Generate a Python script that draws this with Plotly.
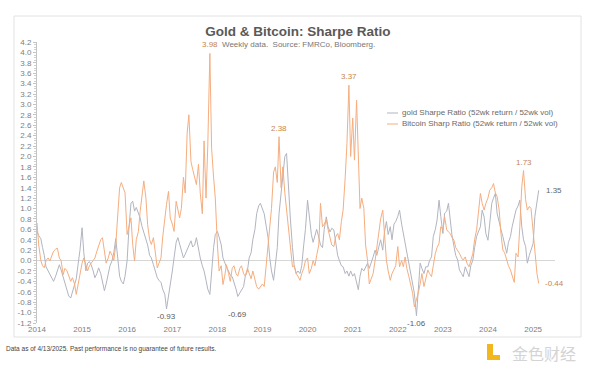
import plotly.graph_objects as go
import pandas as pd

# ---- data: semi-monthly readings of the weekly series (24 per year) ----
gold_2014 = [0.40, 0.56, 0.48, 0.42, 0.25, 0.10, -0.12, -0.20, -0.27, -0.35, -0.40, -0.30, -0.18, -0.08, -0.18, -0.33, -0.45, -0.55, -0.68, -0.72, -0.60, -0.50, -0.35, -0.05]
gold_2015 = [0.20, 0.63, 0.15, -0.20, -0.05, -0.02, -0.08, -0.20, -0.33, -0.25, -0.14, -0.25, -0.40, -0.58, -0.45, -0.22, -0.10, 0.00, 0.15, 0.42, 0.10, -0.30, -0.40, -0.45]
gold_2016 = [-0.30, 0.00, 0.60, 1.10, 1.14, 0.95, 1.02, 0.90, 0.82, 0.65, 0.55, 0.40, 0.30, 0.10, 0.05, -0.08, -0.20, -0.33, -0.38, -0.42, -0.55, -0.65, -0.93, -0.70]
gold_2017 = [-0.46, -0.20, 0.05, 0.35, 0.44, 0.32, 0.20, 0.05, 0.12, 0.20, 0.30, 0.38, 0.26, 0.30, 0.44, 0.20, 0.05, -0.10, -0.20, -0.38, -0.55, -0.65, -0.20, 0.25]
gold_2018 = [0.50, 0.56, 0.45, 0.30, 0.05, -0.05, -0.12, -0.20, -0.28, -0.31, -0.40, -0.55, -0.69, -0.62, -0.58, -0.50, -0.30, -0.20, 0.05, 0.15, 0.40, 0.60, 0.90, 1.05]
gold_2019 = [1.10, 1.00, 0.90, 0.65, 0.45, 0.05, -0.20, -0.38, -0.10, 0.25, 0.90, 1.30, 1.70, 2.00, 2.06, 1.30, 0.80, 0.25, -0.10, -0.25, -0.20, -0.25, -0.10, 0.30]
gold_2020 = [0.60, 1.16, 0.80, 0.50, 0.35, 0.50, 0.60, 0.45, 0.30, 0.25, 0.60, 0.84, 0.65, 0.55, 0.62, 0.59, 0.40, 0.10, 0.00, -0.10, -0.12, -0.25, -0.20, -0.30]
gold_2021 = [-0.20, -0.30, -0.25, -0.45, -0.56, -0.30, -0.15, -0.20, -0.12, -0.05, -0.15, 0.00, 0.07, 0.20, 0.10, 0.27, 0.40, 0.20, 0.55, 0.75, 0.50, 0.65, 0.40, 0.70]
gold_2022 = [0.75, 0.85, 0.97, 0.70, 0.52, 0.30, 0.14, -0.10, -0.31, -0.50, -0.63, -1.06, -0.50, -0.05, -0.15, -0.25, -0.12, -0.12, 0.00, 0.07, 0.46, 0.60, 0.78, 1.16]
gold_2023 = [0.85, 0.52, 0.91, 0.95, 1.10, 0.78, 0.50, 0.27, 0.10, 0.01, -0.18, -0.25, -0.31, -0.12, -0.20, -0.31, -0.10, 0.01, 0.25, 0.46, 0.55, 0.65, 0.97, 0.84]
gold_2024 = [0.52, 0.39, 0.70, 1.10, 1.20, 1.29, 0.91, 0.71, 0.60, 0.46, 0.30, 0.14, 0.35, 0.46, 0.65, 0.80, 0.97, 1.05, 1.16, 0.65, 0.40, 0.27, -0.05, 0.10]
gold_2025 = [0.20, 0.33, 0.85, 1.15, 1.35]

btc_2014 = [0.65, 0.72, 0.30, 0.00, -0.10, -0.14, 0.00, 0.05, -0.01, 0.10, 0.18, 0.22, 0.24, 0.05, 0.00, -0.27, -0.15, -0.20, -0.30, -0.40, -0.33, -0.45, -0.65, -0.45]
btc_2015 = [-0.20, -0.05, 0.05, -0.10, -0.20, -0.10, -0.05, -0.01, 0.05, 0.18, 0.30, 0.40, 0.44, 0.18, -0.05, 0.05, 0.18, 0.10, 0.00, 0.31, 0.82, 1.40, 1.50, 1.40]
btc_2016 = [1.30, 0.50, 0.65, 0.82, 0.31, -0.01, 0.40, 0.56, 0.94, 1.30, 1.53, 1.20, 0.69, 0.40, 0.31, 0.44, 0.18, -0.14, -0.05, 0.05, 0.45, 0.82, 1.08, 1.33]
btc_2017 = [0.82, 0.70, 0.56, 1.14, 0.95, 0.82, 1.00, 1.60, 1.30, 2.45, 2.80, 1.90, 1.75, 1.60, 1.46, 1.85, 1.30, 0.90, 2.30, 1.20, 2.20, 3.98, 2.16, 1.60]
btc_2018 = [1.20, 0.30, -0.20, -0.10, -0.46, -0.30, -0.08, -0.25, -0.40, -0.15, -0.10, -0.25, -0.30, -0.15, -0.10, -0.25, -0.30, -0.15, -0.25, -0.35, -0.20, -0.40, -0.50, -0.55]
btc_2019 = [-0.50, -0.45, -0.50, -0.10, 0.30, 0.65, 1.00, 1.70, 1.80, 1.50, 2.38, 1.40, 1.80, 1.30, 1.00, 0.60, 0.27, -0.12, -0.10, -0.25, -0.30, -0.38, -0.25, -0.15]
btc_2020 = [0.00, 0.05, -0.25, -0.15, 0.00, -0.10, 0.10, 0.30, 1.10, 0.65, 0.70, 0.78, 0.60, 0.40, 0.30, 0.27, 0.45, 0.52, 0.40, 0.75, 0.97, 1.60, 2.25, 3.37]
btc_2021 = [2.00, 2.74, 1.93, 3.08, 1.75, 1.00, 1.20, 1.00, 0.30, 0.00, -0.45, -0.35, -0.25, 0.00, 0.27, 0.50, 0.80, 0.97, 0.50, 0.00, -0.20, -0.38, -0.25, -0.18]
btc_2022 = [-0.10, 0.27, -0.12, 0.00, -0.12, 0.07, -0.15, -0.31, -0.45, -0.63, -0.89, -0.75, -0.63, -0.45, -0.25, -0.50, -0.35, -0.18, -0.25, -0.31, -0.10, 0.14, 0.25, 0.33]
btc_2023 = [0.65, 0.60, 0.84, 0.59, 0.55, 0.52, 0.45, 0.39, 0.25, 0.20, 0.14, 0.05, 0.01, 0.07, -0.05, -0.12, 0.00, 0.14, 0.40, 0.59, 0.90, 1.29, 1.10, 0.97]
btc_2024 = [1.10, 1.20, 1.35, 1.40, 1.48, 1.30, 1.23, 0.97, 0.52, 0.20, 0.15, 0.01, -0.10, -0.18, -0.30, -0.42, 0.14, 0.07, 0.65, 1.42, 1.73, 1.17, 0.97, 1.04]
btc_2025 = [1.00, 0.52, 0.07, -0.25, -0.44]

gold_values = (gold_2014 + gold_2015 + gold_2016 + gold_2017 + gold_2018 + gold_2019
               + gold_2020 + gold_2021 + gold_2022 + gold_2023 + gold_2024 + gold_2025)
btc_values = (btc_2014 + btc_2015 + btc_2016 + btc_2017 + btc_2018 + btc_2019
              + btc_2020 + btc_2021 + btc_2022 + btc_2023 + btc_2024 + btc_2025)
dates = pd.date_range("2013-12-15", periods=len(gold_values), freq="SMS")

year_labels = [str(y) for y in range(2014, 2026)]
y_ticks = [round(-1.2 + 0.2 * k, 1) for k in range(28)]

gold_name = "gold Sharpe Ratio (52wk return / 52wk vol)"
btc_name = "Bitcoin Sharp Ratio (52wk return / 52wk vol)"
btc_peaks = [3.98, 2.38, 3.37, 1.73]
gold_troughs = [-0.93, -0.69, -1.06]

GOLD_C = "#b2b5c0"
BTC_C = "#f5ae80"
BTC_TXT = "#c7864d"
GOLD_TXT = "#5a5a5a"

# ---- pixel helpers (layout positions only) ----
L, R, T, B = 37, 555, 42, 323
def px(x):
    return (x - L) / (R - L)
def py(y):
    return (B - y) / (B - T)

fig = go.Figure()
fig.add_trace(go.Scatter(x=dates, y=gold_values, mode="lines", name=gold_name,
                         line=dict(color=GOLD_C, width=1)))
fig.add_trace(go.Scatter(x=dates, y=btc_values, mode="lines", name=btc_name,
                         line=dict(color=BTC_C, width=1)))

ann = []
for v in btc_peaks:
    i = btc_values.index(v)
    ann.append(dict(x=dates[i], y=v, xref="x", yref="y", text=f"{v:.2f}", showarrow=False,
                    yanchor="bottom", yshift=2, font=dict(size=8, color=BTC_TXT)))
for v in gold_troughs:
    i = gold_values.index(v)
    ys = -12 if v == -0.69 else -1
    ann.append(dict(x=dates[i], y=v, xref="x", yref="y", text=f"{v:.2f}", showarrow=False,
                    yanchor="top", yshift=ys, font=dict(size=8, color=GOLD_TXT)))
ann.append(dict(x=dates[-1], y=gold_values[-1], xref="x", yref="y", text=f"{gold_values[-1]:.2f}",
                showarrow=False, xanchor="left", xshift=5, font=dict(size=8, color="#666666")))
ann.append(dict(x=dates[-1], y=btc_values[-1], xref="x", yref="y", text=f"{btc_values[-1]:.2f}",
                showarrow=False, xanchor="left", xshift=4, font=dict(size=8, color=BTC_TXT)))

# subtitle
ann.append(dict(x=px(298), y=py(45), xref="paper", yref="paper", showarrow=False,
                text="Weekly data.  Source: FMRCo, Bloomberg.", yanchor="middle",
                font=dict(size=8, color="#777777")))
# legend text
ann.append(dict(x=px(400), y=py(113), xref="paper", yref="paper", showarrow=False, text=gold_name,
                xanchor="left", yanchor="middle", font=dict(size=8, color="#6a6a6a")))
ann.append(dict(x=px(400), y=py(124), xref="paper", yref="paper", showarrow=False, text=btc_name,
                xanchor="left", yanchor="middle", font=dict(size=8, color="#6a6a6a")))
# footer
ann.append(dict(x=px(4), y=py(349), xref="paper", yref="paper", showarrow=False,
                text="Data as of 4/13/2025. Past performance is no guarantee of future results.",
                xanchor="left", yanchor="middle", font=dict(size=6.5, color="#444444")))
# watermark
ann.append(dict(x=px(544), y=py(353), xref="paper", yref="paper", showarrow=False, text="金色财经",
                xanchor="center", yanchor="middle",
                font=dict(size=16, color="#d4d4d4", family="Noto Sans CJK SC")))

shapes = [
    dict(type="rect", xref="paper", yref="paper", x0=px(14), x1=px(581), y0=py(337), y1=py(16),
         line=dict(color="#e2e2e2", width=1), layer="below"),
    dict(type="line", xref="paper", yref="paper", x0=px(387), x1=px(398), y0=py(113), y1=py(113),
         line=dict(color=GOLD_C, width=1)),
    dict(type="line", xref="paper", yref="paper", x0=px(387), x1=px(398), y0=py(124), y1=py(124),
         line=dict(color=BTC_C, width=1)),
    dict(type="rect", xref="paper", yref="paper", x0=px(487), x1=px(493), y0=py(360), y1=py(344),
         line=dict(width=0), fillcolor="#f2b71c"),
    dict(type="rect", xref="paper", yref="paper", x0=px(487), x1=px(500), y0=py(360), y1=py(355),
         line=dict(width=0), fillcolor="#f2b71c"),
]

fig.update_layout(
    width=600, height=366,
    margin=dict(l=L, r=600 - R, t=T, b=366 - B),
    paper_bgcolor="white", plot_bgcolor="white",
    showlegend=False,
    font=dict(family="Liberation Sans, Arial, sans-serif", size=8, color="#808080"),
    title=dict(text="<b>Gold & Bitcoin: Sharpe Ratio</b>", x=298 / 600, xanchor="center",
               y=1 - 31 / 366, yanchor="middle", yref="container",
               font=dict(size=13.5, color="#595959")),
    annotations=ann,
    shapes=shapes,
    xaxis=dict(type="date", range=["2014-01-01", "2025-06-27"],
               tickvals=[f"{y}-01-01" for y in year_labels], ticktext=year_labels,
               showline=False, showgrid=False, zeroline=False, ticks="",
               tickfont=dict(size=8, color="#808080")),
    yaxis=dict(range=[-1.2, 4.2], tickvals=y_ticks, ticktext=[f"{v:.1f}" for v in y_ticks],
               showline=True, linecolor="#c4c4c4", linewidth=1,
               ticks="outside", ticklen=3, tickcolor="#c4c4c4",
               minor=dict(dtick=0.05, ticks="outside", ticklen=2, tickcolor="#d0d0d0"),
               showgrid=False, zeroline=True, zerolinecolor="#d6d6d6", zerolinewidth=1,
               tickfont=dict(size=8, color="#808080")),
)

fig.write_html("out.html", config={"displayModeBar": False},
               post_script="document.body.style.margin='0';document.body.style.padding='0';")
